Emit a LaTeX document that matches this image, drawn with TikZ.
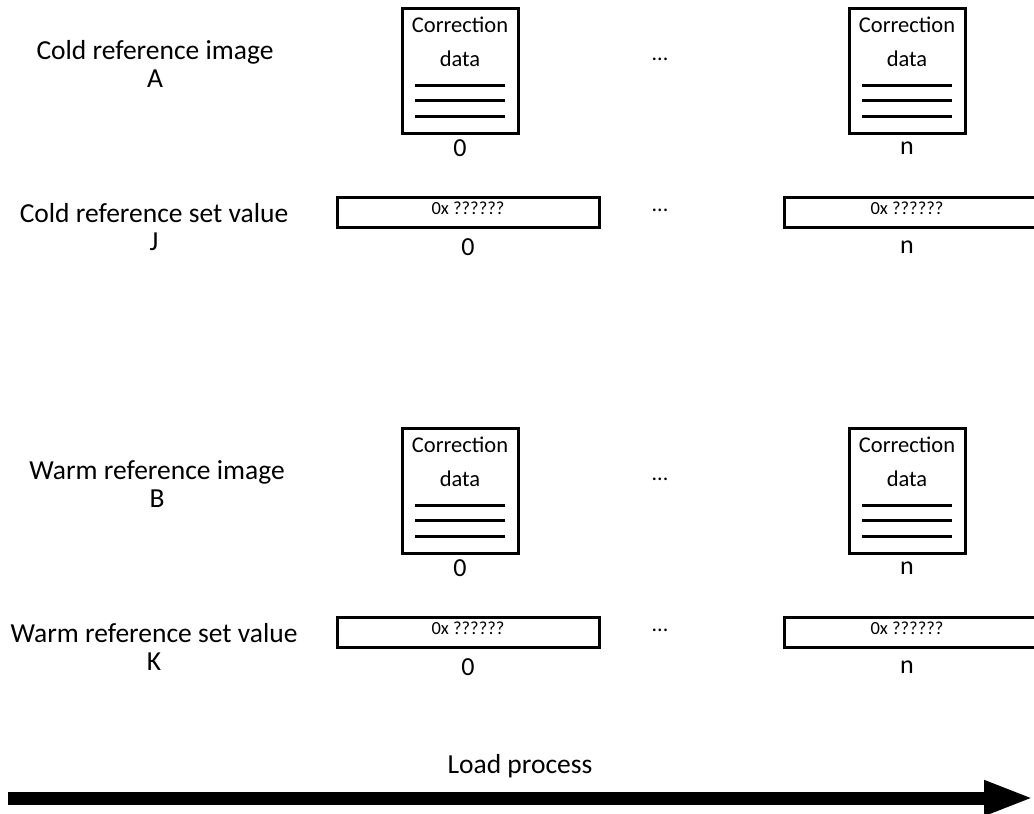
\documentclass[tikz,border=0pt]{standalone}
\usepackage{fontspec}
\setmainfont{Carlito}
\usetikzlibrary{arrows.meta}
\begin{document}
\begin{tikzpicture}[x=1pt,y=-1pt,
  lbl/.style={font=\fontsize{27.5}{28}\selectfont, align=center, inner sep=0},
  doc/.style={draw, line width=3pt, minimum width=116pt, minimum height=125pt, inner sep=0},
  reg/.style={draw, line width=3pt, minimum height=30pt, inner sep=0},
  small/.style={font=\fontsize{22.5}{24}\selectfont, inner sep=0},
  regtxt/.style={font=\fontsize{18.5}{20}\selectfont, inner sep=0},
  idx/.style={font=\fontsize{26}{26}\selectfont, inner sep=0},
  dots/.style={font=\fontsize{22}{24}\selectfont, inner sep=0}]
\useasboundingbox (0,0) rectangle (1034,814);
\foreach \dy/\r in {0/c,420/w}{
  % documents
  \foreach \cx/\k in {460/0,907/n}{
    \node[doc] (doc\r\k) at (\cx,70.5+\dy) {};
    \node[small] at (\cx,25+\dy) {Correction};
    \node[small] at (\cx,59+\dy) {data};
    \foreach \ly in {85,100,116}{
      \draw[line width=3pt] (\cx-45,\ly+\dy) -- (\cx+45,\ly+\dy);
    }
    \node[idx] (docl\r\k) at (\cx,148+\dy) {\k};
  }
  \node[dots] (ddots\r) at (660,59+\dy) {...};
  % registers
  \node[reg, minimum width=262pt] (reg\r0) at (468,212+\dy) {};
  \node[regtxt] at (468,208+\dy) {0x ??????};
  \node[reg, minimum width=252pt] (reg\r n) at (910,212+\dy) {};
  \node[regtxt] at (907,208+\dy) {0x ??????};
  \node[idx] at (468,247+\dy) {0};
  \node[idx] at (907,247+\dy) {n};
  \node[dots] (rdots\r) at (660,210+\dy) {...};
}
\node[lbl] (A) at (155,64) {Cold reference image\\A};
\node[lbl] (J) at (154,227) {Cold reference set value\\J};
\node[lbl] (B) at (157,484) {Warm reference image\\B};
\node[lbl] (K) at (154,647) {Warm reference set value\\K};
\node[lbl] (lp) at (520,766) {Load process};
\coordinate (s) at (8,798);
\coordinate (e) at (1034,798);
\draw[line width=13pt, -{Triangle[length=50pt,width=32pt]}] (s) -- (e);
\end{tikzpicture}
\end{document}
